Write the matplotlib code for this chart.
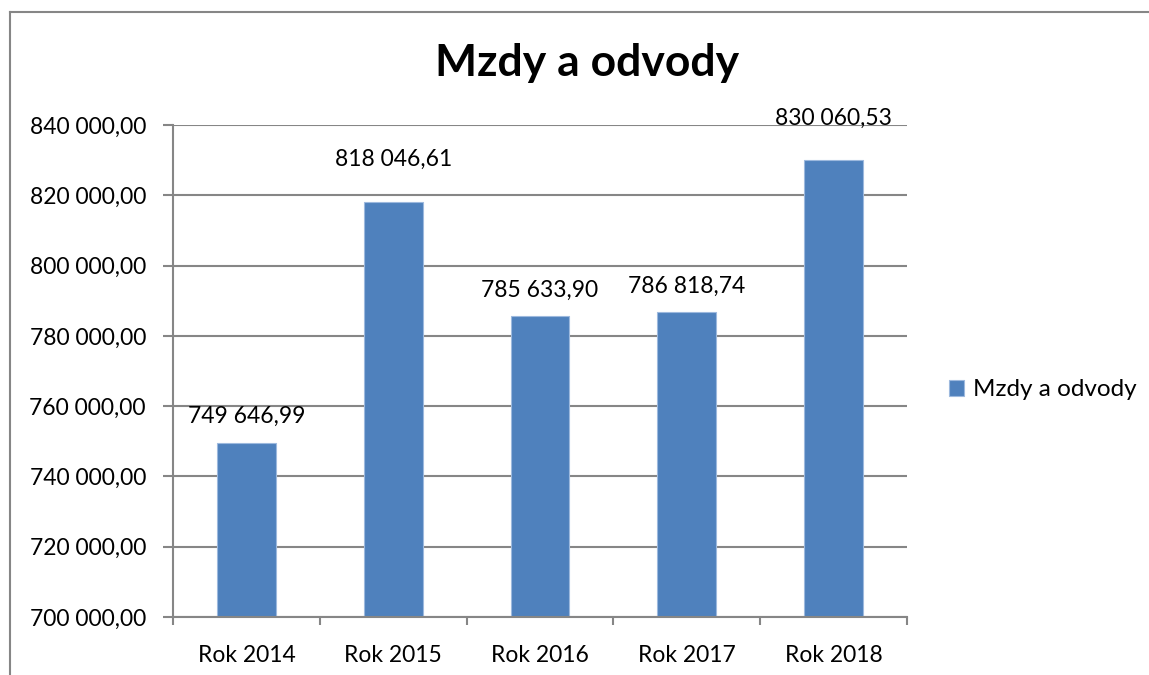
import matplotlib
matplotlib.use("Agg")
import matplotlib.pyplot as plt
from matplotlib.lines import Line2D

categories = ["Rok 2014", "Rok 2015", "Rok 2016", "Rok 2017", "Rok 2018"]
values = [749646.99, 818046.61, 785633.90, 786818.74, 830060.53]
value_labels = ["749 646,99", "818 046,61", "785 633,90", "786 818,74", "830 060,53"]
y_ticks = [700000, 720000, 740000, 760000, 780000, 800000, 820000, 840000]
y_tick_labels = ["700 000,00", "720 000,00", "740 000,00", "760 000,00",
                 "780 000,00", "800 000,00", "820 000,00", "840 000,00"]
series_name = "Mzdy a odvody"
title = "Mzdy a odvody"

# label offsets above bar tops (points) as in the reference
label_offsets = [14, 26, 13.5, 13.5, 25]

plt.rcParams['font.family'] = ['Lato', 'DejaVu Sans']
FS = 16.5
GRID = "#868686"
BAR = "#4F81BD"

fig = plt.figure(figsize=(11.49, 6.75), dpi=100)
ax = fig.add_axes([173/1149, 1-617/675, (907-173)/1149, (617-125)/675])

x = list(range(len(categories)))
bars = ax.bar(x, values, width=0.4, color=BAR, edgecolor="#9DB9DE", linewidth=0.8,
              label=series_name, zorder=3)
ax.set_xlim(-0.5, len(categories)-0.5)
ax.set_ylim(700000, 840000)
ax.set_yticks(y_ticks)
ax.set_yticklabels(y_tick_labels, fontsize=FS)
ax.set_xticks(x)
ax.set_xticklabels(categories, fontsize=FS)
ax.tick_params(axis='x', length=0, pad=20)
ax.tick_params(axis='y', length=7, width=1.5, color=GRID, pad=12.5)
ax.set_xticks([i-0.5 for i in range(len(categories)+1)], minor=True)
ax.tick_params(axis='x', which='minor', length=6, width=1.5, color=GRID)
ax.grid(axis='y', color=GRID, linewidth=1.5, zorder=0)
for s in ["top", "right"]:
    ax.spines[s].set_visible(False)
for s in ["left", "bottom"]:
    ax.spines[s].set_color(GRID)
    ax.spines[s].set_linewidth(1.5)
    ax.spines[s].set_zorder(4)

for xi, v, lab, off in zip(x, values, value_labels, label_offsets):
    ax.annotate(lab, (xi, v), xytext=(0, off), textcoords="offset points",
                ha="center", va="baseline", fontsize=FS, color="black")

fig.text(587/1149, 1-63/675, title, ha="center", va="center",
         fontsize=32, fontweight="bold")

fig.legend(handles=[bars], labels=[series_name], loc="center left",
           bbox_to_anchor=(927/1149, 1-390/675), frameon=False, fontsize=17.5,
           handlelength=0.64, handleheight=0.64, handletextpad=0.35)

fig.add_artist(Line2D([10/1149, 10/1149], [0, 1-12/675], color=GRID, linewidth=1.5))
fig.add_artist(Line2D([10/1149, 1], [1-12/675, 1-12/675], color=GRID, linewidth=1.5))

fig.savefig("out.png", dpi=100)
